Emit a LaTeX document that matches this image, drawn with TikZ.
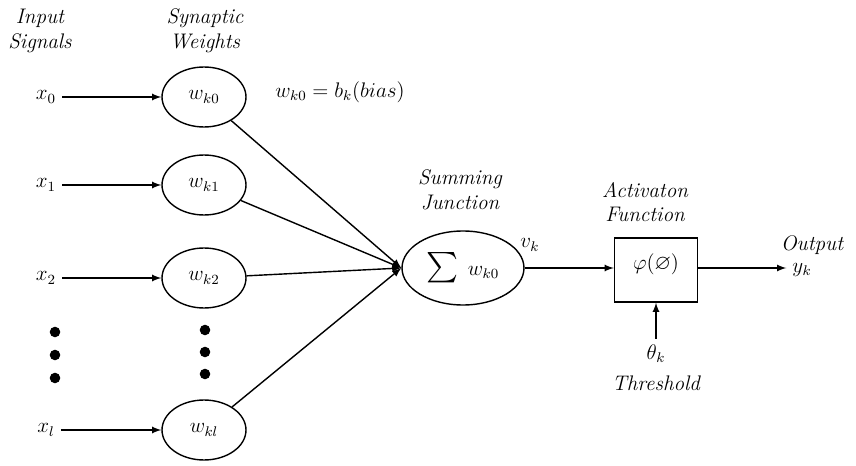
\documentclass[tikz,border=0pt]{standalone}
\usepackage{amssymb}
\usetikzlibrary{shapes.geometric}
\begin{document}
\begin{tikzpicture}[x=0.02cm,y=-0.02cm]
			\tikzset{weight/.style={ellipse, draw=black, thick, minimum width=1.68cm, minimum height=1.2cm, inner sep=0pt}};
			\tikzset{label/.style={font=\large\itshape, align=center}};
			\tikzset{dot/.style={circle, fill=black, inner sep=0pt, minimum size=6pt}};
			\tikzset{arrow/.style={thick, -latex}};
			\useasboundingbox (0,0) rectangle (856,466);

			\node[label] (inp) at (40,31) {Input\\Signals};
			\node[label] (syn) at (205,31) {Synaptic\\Weights};
			\node[label] (sumlab) at (460,190) {Summing\\Junction};
			\node[label] (actlab) at (645,202) {Activaton\\Function};
			\node[label] (outlab) at (812,245) {Output};
			\node[label] (thr) at (656,383) {Threshold};

			\node (x0) at (46,97) {\large $x_0$};
			\node (x1) at (46,185) {\large $x_1$};
			\node (x2) at (46,278) {\large $x_2$};
			\node (xl) at (46,430) {\large $x_l$};

			\node[weight] (w0) at (204,97) {\large $w_{k0}$};
			\node[weight] (w1) at (204,185) {\large $w_{k1}$};
			\node[weight] (w2) at (204,278) {\large $w_{k2}$};
			\node[weight] (wl) at (204,430) {\large $w_{kl}$};

			\node[dot] (d1) at (55,332) {};
			\node[dot] (d2) at (55,355) {};
			\node[dot] (d3) at (55,378) {};
			\node[dot] (e1) at (205,330) {};
			\node[dot] (e2) at (205,352) {};
			\node[dot] (e3) at (205,374) {};

			\node (bias) at (340,92) {\large $w_{k0} = b_k(bias)$};
			\node[weight, minimum width=2.44cm, minimum height=1.48cm] (sum) at (463,268) {\LARGE $\sum$ \large $w_{k0}$};
			\node (vk) at (530,245) {\large $v_k$};
			\node[draw=black, thick, minimum width=1.66cm, minimum height=1.28cm] (act) at (656,270) {};
			\node (phi) at (656,264) {\large $\varphi(\varnothing)$};
			\node (yk) at (802,270) {\large $y_k$};
			\node (theta) at (656,354) {\large $\theta_k$};

			\draw[arrow] (x0) -- (w0);
			\draw[arrow] (x1) -- (w1);
			\draw[arrow] (x2) -- (w2);
			\draw[arrow] (xl) -- (wl);

			\draw[arrow] (w0) -- (sum.west);
			\draw[arrow] (w1) -- (sum.west);
			\draw[arrow] (w2) -- (sum.west);
			\draw[arrow] (wl) -- (sum.west);

			\draw[arrow] (sum.east) -- (act.west |- sum.east);
			\draw[arrow] (act.east |- sum.east) -- (yk.west |- sum.east);
			\draw[arrow] (theta) -- (act);
		\end{tikzpicture}
\end{document}
